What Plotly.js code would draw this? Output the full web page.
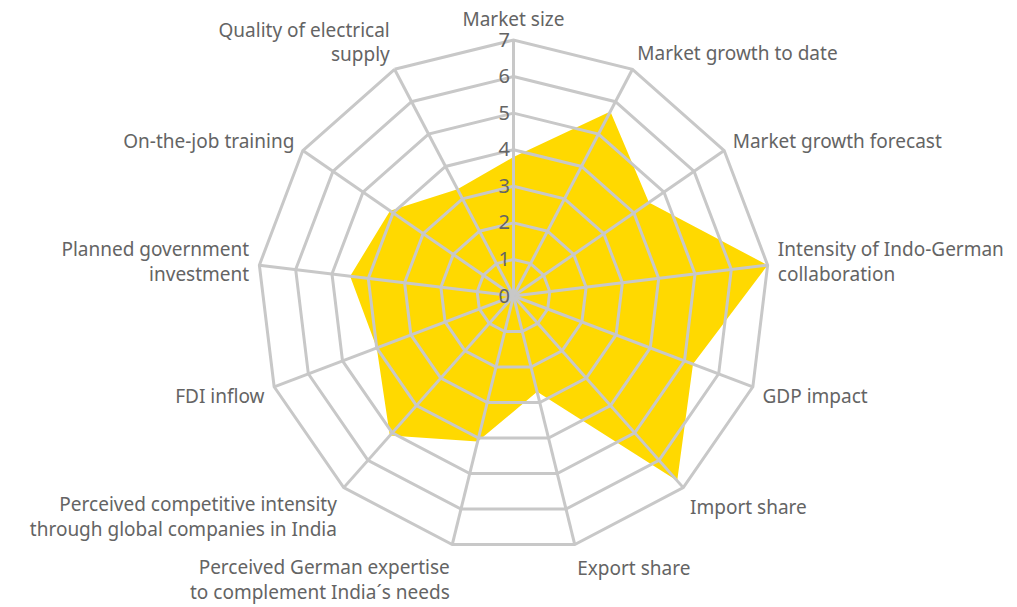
<!DOCTYPE html>
<html>
<head>
<meta charset="utf-8">
<script src="https://cdn.plot.ly/plotly-3.0.1.min.js"></script>
<style>
  html, body { margin: 0; padding: 0; background: #fff; }
  #plot { width: 1017px; height: 607px; }
</style>
</head>
<body>
<div id="plot"></div>
<script>
// categories, clockwise from the top
const categories = [
    'Market size',
    'Market growth to date',
    'Market growth forecast',
    'Intensity of Indo-German<br>collaboration',
    'GDP impact',
    'Import share',
    'Export share',
    'Perceived German expertise<br>to complement India´s needs',
    'Perceived competitive intensity<br>through global companies in India',
    'FDI inflow',
    'Planned government<br>investment',
    'On-the-job training',
    'Quality of electrical<br>supply'
];
const scores = [3.8, 5.7, 4.5, 7.0, 5.25, 6.75, 2.7, 4.1, 5.1, 4.0, 4.5, 4.1, 3.3];
const radialTicks = [0, 1, 2, 3, 4, 5, 6, 7];

const gridColor = '#c8c8c8';
const textColor = '#646464';

const closedCats = categories.concat([categories[0]]);
const closedScores = scores.concat([scores[0]]);

const traces = [];

// filled area
traces.push({
    type: 'scatterpolar',
    r: closedScores,
    theta: closedCats,
    mode: 'none',
    fill: 'toself',
    fillcolor: '#FFD900',
    hoverinfo: 'skip'
});

// web rings drawn over the fill (plotly keeps its own grid under traces)
radialTicks.slice(1, -1).forEach(k => {
    traces.push({
        type: 'scatterpolar',
        r: closedCats.map(() => k),
        theta: closedCats,
        mode: 'lines',
        cliponaxis: false,
        line: { color: gridColor, width: 3 },
        hoverinfo: 'skip'
    });
});

// spokes
categories.forEach(c => {
    traces.push({
        type: 'scatterpolar',
        r: [0, radialTicks[radialTicks.length - 1]],
        theta: [c, c],
        mode: 'lines',
        cliponaxis: false,
        line: { color: gridColor, width: 3 },
        hoverinfo: 'skip'
    });
});

const layout = {
    width: 1017,
    height: 607,
    showlegend: false,
    paper_bgcolor: '#fff',
    margin: { l: 257, r: 247, t: 40, b: 55 },
    font: { family: 'Noto Sans, sans-serif', color: textColor, size: 19 },
    polar: {
        bgcolor: 'rgba(0,0,0,0)',
        gridshape: 'linear',
        angularaxis: {
            direction: 'clockwise',
            rotation: 90,
            showgrid: false,
            showline: true,
            linecolor: gridColor,
            linewidth: 3,
            layer: 'above traces',
            ticks: 'outside',
            ticklen: 5,
            tickcolor: 'rgba(0,0,0,0)',
            tickfont: { size: 19, color: textColor }
        },
        radialaxis: {
            range: [0, 7],
            tickvals: radialTicks,
            angle: 90,
            showgrid: false,
            showline: false,
            ticks: '',
            tickangle: 90,
            side: 'counterclockwise',
            tickfont: { size: 20, color: textColor }
        }
    }
};

Plotly.newPlot('plot', traces, layout, { displayModeBar: false, staticPlot: true });
</script>
</body>
</html>
